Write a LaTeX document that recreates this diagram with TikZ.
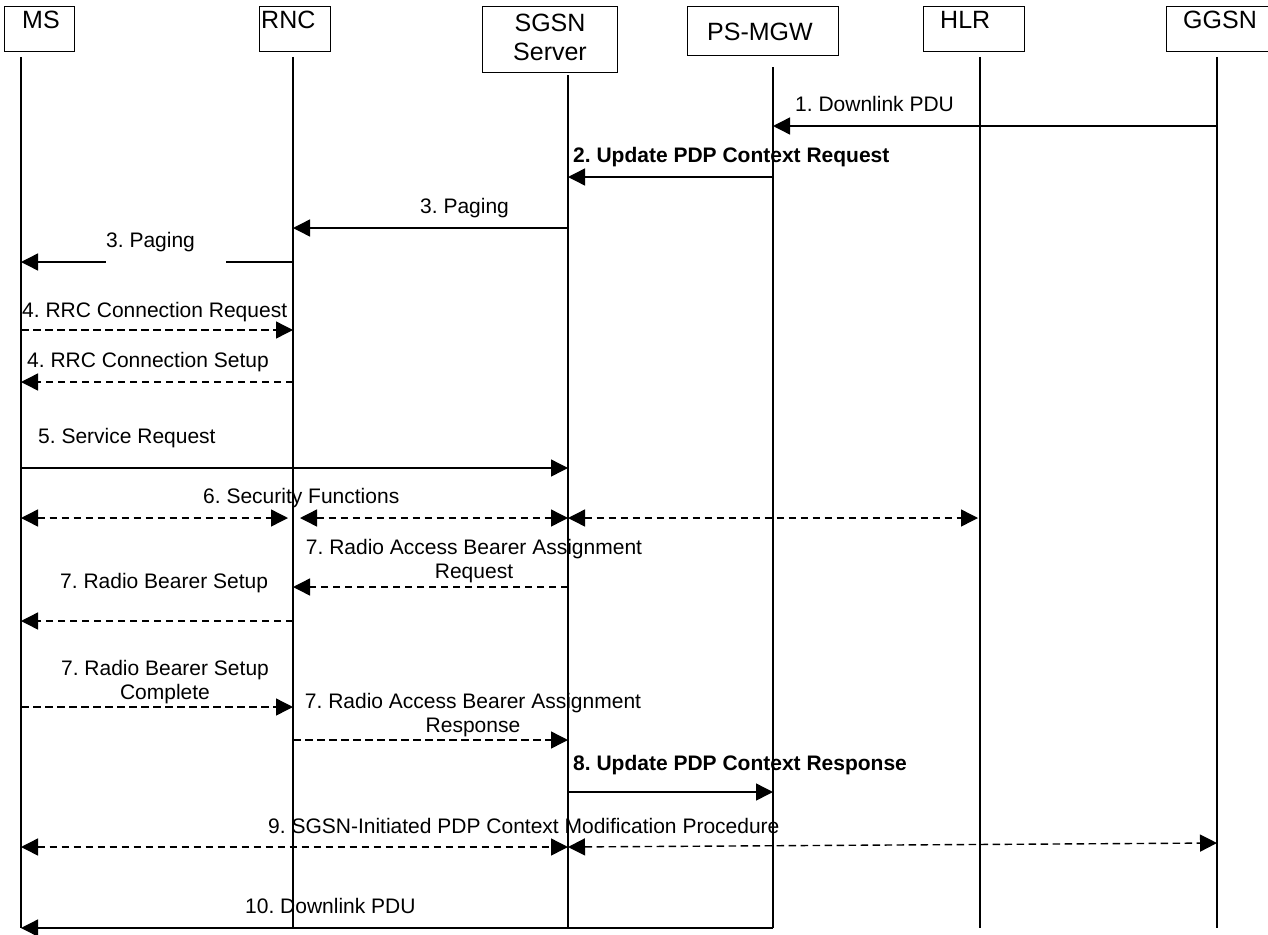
\documentclass[tikz,border=0pt]{standalone}
\usepackage{fontspec}
\setmainfont{Liberation Sans}
\usetikzlibrary{arrows.meta}
\frenchspacing
\begin{document}
\begin{tikzpicture}[x=1pt,y=-1pt,
  hbox/.style={draw, line width=1pt, anchor=north west, inner sep=0pt},
  htext/.style={font=\fontsize{25}{28}\selectfont, inner sep=0pt},
  mtext/.style={font=\fontsize{21}{24}\selectfont, inner sep=0pt, anchor=base west},
  btext/.style={font=\fontsize{21}{24}\selectfont\bfseries, inner sep=0pt, anchor=base west},
  ctext/.style={font=\fontsize{21}{24}\selectfont, inner sep=0pt, anchor=base},
  life/.style={line width=1.4pt},
  msg/.style={line width=1.4pt, -{Triangle[length=17pt,width=17pt]}},
  dmsg/.style={msg, dash pattern=on 7.5pt off 4.5pt},
  dbl/.style={line width=1.4pt, dash pattern=on 7.5pt off 4.5pt, {Triangle[length=17pt,width=17pt]}-{Triangle[length=17pt,width=17pt]}},
]
\useasboundingbox (0,0) rectangle (1268,934);

% header boxes
\node[hbox, minimum width=70pt, minimum height=45pt] (ms) at (4,6) {};
\node[hbox, minimum width=71pt, minimum height=45pt] (rnc) at (259,6) {};
\node[hbox, minimum width=135pt, minimum height=66pt] (sgsn) at (482,6) {};
\node[hbox, minimum width=151pt, minimum height=49pt] (pgw) at (687,6) {};
\node[hbox, minimum width=101pt, minimum height=45pt] (hlr) at (923,6) {};
\node[hbox, minimum width=104pt, minimum height=45pt] (ggsn) at (1166,6) {};

\node[htext, anchor=base west] (mst) at (22,29) {MS};
\node[htext, anchor=base west] (rnct) at (261,29) {RNC};
\node[htext, anchor=base] (sgsnt1) at (550,32) {SGSN};
\node[htext, anchor=base] (sgsnt2) at (550,60) {Server};
\node[htext, anchor=base] (pgwt) at (760,41) {PS-MGW};
\node[htext, anchor=base west] (hlrt) at (940,29) {HLR};
\node[htext, anchor=base west] (ggsnt) at (1183,29) {GGSN};

% lifelines
\coordinate (msT) at (21,57);     \coordinate (msB) at (21,928);
\coordinate (rncT) at (293,57);   \coordinate (rncB) at (293,928);
\coordinate (sgsnT) at (568,75);  \coordinate (sgsnB) at (568,928);
\coordinate (pgwT) at (773,67);   \coordinate (pgwB) at (773,928);
\coordinate (hlrT) at (980,57);   \coordinate (hlrB) at (980,928);
\coordinate (ggsnT) at (1217,57); \coordinate (ggsnB) at (1217,928);
\foreach \n in {ms,rnc,sgsn,pgw,hlr,ggsn} {\draw[life] (\n T) -- (\n B);}

% message levels
\coordinate (y1) at (0,126);
\coordinate (y2) at (0,177);
\coordinate (y3a) at (0,228);
\coordinate (y3b) at (0,262);
\coordinate (y4a) at (0,330);
\coordinate (y4b) at (0,382);
\coordinate (y5) at (0,468);
\coordinate (y6) at (0,518);
\coordinate (y7a) at (0,587);
\coordinate (y7b) at (0,621);
\coordinate (y7c) at (0,707);
\coordinate (y7d) at (0,740);
\coordinate (y8) at (0,792);
\coordinate (y9) at (0,847);
\coordinate (y9g) at (0,843);
\coordinate (y10) at (0,928);

% 1
\draw[msg] (ggsnT |- y1) -- (pgwT |- y1);
\node[mtext] (l1) at (795,111) {1. Downlink PDU};
% 2
\draw[msg] (pgwT |- y2) -- (sgsnT |- y2);
\node[btext] (l2) at (573,162) {2. Update PDP Context Request};
% 3
\draw[msg] (sgsnT |- y3a) -- (rncT |- y3a);
\node[mtext] (l3a) at (420,213) {3. Paging};
\draw[msg] (rncT |- y3b) -- (msT |- y3b);
\fill[white] (106,257) rectangle (226,267);
\node[mtext] (l3b) at (106,247) {3. Paging};
% 4
\draw[dmsg] (msT |- y4a) -- (rncT |- y4a);
\node[mtext] (l4a) at (22,317) {4. RRC Connection Request};
\draw[dmsg] (rncT |- y4b) -- (msT |- y4b);
\node[mtext] (l4b) at (27,367) {4. RRC Connection Setup};
% 5
\draw[msg] (msT |- y5) -- (sgsnT |- y5);
\node[mtext] (l5) at (38,443) {5. Service Request};
% 6
\draw[dbl, shorten >=5pt] (msT |- y6) -- (rncT |- y6);
\draw[dbl, shorten <=7pt] (rncT |- y6) -- (sgsnT |- y6);
\draw[dbl, shorten >=2pt] (sgsnT |- y6) -- (hlrT |- y6);
\node[mtext] (l6) at (203,503) {6. Security Functions};
% 7 RAB request
\draw[dmsg] (sgsnT |- y7a) -- (rncT |- y7a);
\node[ctext] (l7a1) at (474,554) {7. Radio Access Bearer Assignment};
\node[ctext] (l7a2) at (474,578) {Request};
% 7 RB setup
\draw[dmsg] (rncT |- y7b) -- (msT |- y7b);
\node[mtext] (l7b) at (60,588) {7. Radio Bearer Setup};
% 7 RB setup complete
\draw[dmsg] (msT |- y7c) -- (rncT |- y7c);
\node[ctext] (l7c1) at (165,675) {7. Radio Bearer Setup};
\node[ctext] (l7c2) at (165,699) {Complete};
% 7 RAB response
\draw[dmsg] (rncT |- y7d) -- (sgsnT |- y7d);
\node[ctext] (l7d1) at (473,708) {7. Radio Access Bearer Assignment};
\node[ctext] (l7d2) at (473,732) {Response};
% 8
\draw[msg] (sgsnT |- y8) -- (pgwT |- y8);
\node[btext] (l8) at (573,770) {8. Update PDP Context Response};
% 9
\draw[dbl] (msT |- y9) -- (sgsnT |- y9);
\draw[dbl] (sgsnT |- y9) -- (ggsnT |- y9g);
\node[mtext] (l9) at (268,833) {9. SGSN-Initiated PDP Context Modification Procedure};
% 10
\draw[msg] (pgwT |- y10) -- (msT |- y10);
\node[mtext] (l10) at (245,913) {10. Downlink PDU};
\end{tikzpicture}
\end{document}
